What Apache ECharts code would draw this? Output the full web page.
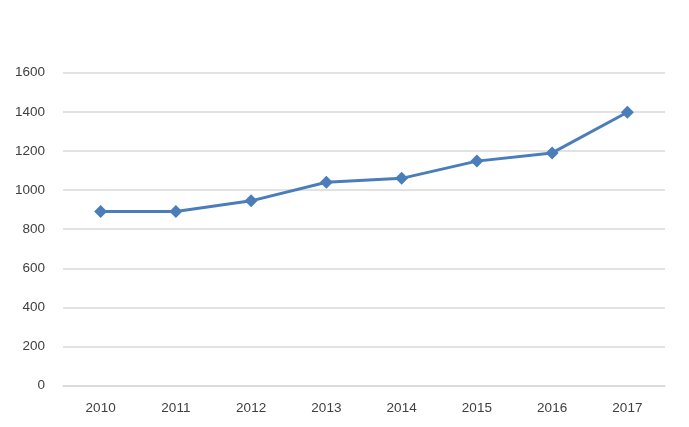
<!DOCTYPE html>
<html><head><meta charset="utf-8">
<script src="https://cdn.jsdelivr.net/npm/echarts@6/dist/echarts.min.js"></script>
<style>html,body{margin:0;padding:0;background:#fff}#c{width:689px;height:427px}</style>
</head><body><div id="c"></div>
<script>
const categories = ['2010','2011','2012','2013','2014','2015','2016','2017'];
const values = [890, 890, 945, 1040, 1060, 1148, 1190, 1398];
const yTicks = [0,200,400,600,800,1000,1200,1400,1600];

const chart = echarts.init(document.getElementById('c'));
chart.setOption({
  animation:false,
  backgroundColor:'#ffffff',
  grid:{left:63,right:24,top:72.7,bottom:41.3},
  xAxis:{type:'category',data:categories,boundaryGap:true,
    axisLine:{lineStyle:{color:'#d9d9d9',width:1.5}},
    axisTick:{show:false},
    axisLabel:{color:'#404040',fontSize:13.5,fontFamily:'Liberation Sans, Arial',margin:16}},
  yAxis:{type:'value',min:yTicks[0],max:yTicks[yTicks.length-1],interval:200,
    axisLine:{show:false},axisTick:{show:false},
    splitLine:{lineStyle:{color:'#d9d9d9',width:1.5}},
    axisLabel:{color:'#404040',fontSize:13.5,fontFamily:'Liberation Sans, Arial',margin:18,
      formatter:v=>String(v)}},
  series:[{type:'line',data:values,symbol:'diamond',symbolSize:13,
    lineStyle:{color:'#4a7ebb',width:3},itemStyle:{color:'#4a7ebb'}}]
});
</script></body></html>
